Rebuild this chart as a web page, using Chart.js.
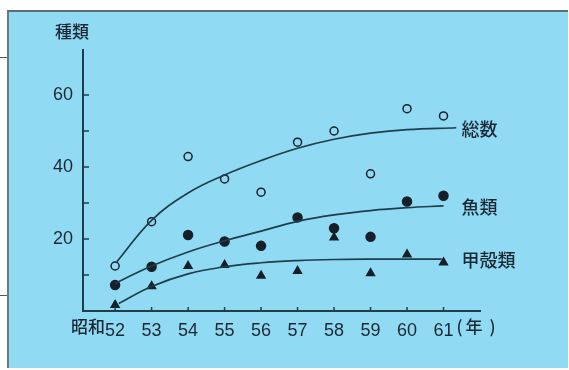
<!DOCTYPE html>
<html>
<head>
<meta charset="utf-8">
<script src="https://cdn.jsdelivr.net/npm/chart.js@4"></script>
<style>
  body { margin: 0; background: #fff; }
  #wrap { position: relative; width: 569px; height: 370px; overflow: hidden; }
  #panel { position: absolute; left: 7px; top: 10px; width: 559px; height: 356px;
           background: #91daf3; border-top: 2px solid #5d6d74; border-left: 2px solid #6a7a80; }
  .mark { position: absolute; left: 0; width: 7px; height: 1px; background: #555; }
  canvas { position: absolute; left: 0; top: 0; }
</style>
</head>
<body>
<div id="wrap">
  <div id="panel"></div>
  <div class="mark" style="top:57px"></div>
  <div class="mark" style="top:295px"></div>
  <canvas id="chart" width="569" height="370"></canvas>
</div>
<script>
// 昭和52〜61年
const years = [52, 53, 54, 55, 56, 57, 58, 59, 60, 61];
const yTickLabels = [20, 40, 60];

// observed points
const totalPts = [12.5, 24.8, 42.9, 36.7, 33.0, 46.9, 50.0, 38.1, 56.2, 54.2];
const fishPts  = [7.2, 12.3, 21.1, 19.3, 18.1, 26.0, 23.0, 20.6, 30.4, 32.0];
const crustPts = [1.7, 6.9, 12.5, 12.8, 9.8, 11.1, 20.4, 10.5, 15.7, 13.5];

// fitted curves
const totalCurveX = [52.05, 53, 54, 55, 56, 57, 58, 59, 60, 61.35];
const totalCurve  = [13.7, 25.2, 32.8, 37.8, 41.8, 45.2, 47.7, 49.4, 50.4, 50.9];
const fishCurveX  = [52, 53, 54, 55, 56, 57, 58, 59, 60, 61];
const fishCurve   = [7.7, 12.5, 16.4, 19.5, 22.2, 24.9, 26.7, 27.9, 28.7, 29.2];
const crustCurveX = [52.1, 53, 54, 55, 56, 57, 58, 59, 60, 60.95];
const crustCurve  = [2.1, 6.8, 10.3, 12.3, 13.4, 14.0, 14.3, 14.4, 14.4, 14.4];

const seriesNames = ['総数', '魚類', '甲殻類'];

const INK = '#1a2833';
const LINE = '#1f3d4b';
const CJK = '"Noto Sans CJK JP", "Noto Sans", sans-serif';
const NUM = '"Liberation Sans", Arial, sans-serif';

const pair = (xs, ys) => xs.map((x, i) => ({ x: x, y: ys[i] }));

function curve(xs, ys) {
    return {
        type: 'line',
        data: pair(xs, ys),
        borderColor: LINE,
        borderWidth: 1.7,
        pointRadius: 0,
        fill: false,
        tension: 0.4
    };
}

function points(ys, style, radius, filled) {
    return {
        type: 'scatter',
        data: pair(years, ys),
        pointStyle: style,
        pointRadius: radius,
        borderWidth: 1.5,
        borderColor: '#15202a',
        backgroundColor: filled ? '#15202a' : 'transparent'
    };
}

const decor = {
    id: 'decor',
    afterDraw(chart) {
        const ctx = chart.ctx;
        const xs = chart.scales.x, ys = chart.scales.y;
        const x0 = xs.left, yb = ys.bottom;
        ctx.save();
        ctx.strokeStyle = LINE;
        ctx.lineWidth = 1.5;
        // inward tick marks
        for (let v = 10; v <= 60; v += 10) {
            const py = ys.getPixelForValue(v);
            ctx.beginPath(); ctx.moveTo(x0, py); ctx.lineTo(x0 + 6, py); ctx.stroke();
        }
        years.forEach(yr => {
            const px = xs.getPixelForValue(yr);
            ctx.beginPath(); ctx.moveTo(px, yb); ctx.lineTo(px, yb - 4); ctx.stroke();
        });

        ctx.fillStyle = INK;
        ctx.textBaseline = 'middle';
        ctx.font = '500 17px ' + CJK;
        // axis title
        ctx.textAlign = 'center';
        ctx.fillText('種類', x0 - 11, ys.top - 18);
        // era prefix and unit
        const ly = yb + 16;
        ctx.textAlign = 'right';
        ctx.fillText('昭和', xs.getPixelForValue(years[0]) - 10, ly);
        ctx.textAlign = 'left';
        const p61 = xs.getPixelForValue(years[years.length - 1]);
        ctx.fillText('(', p61 + 13, ly);
        ctx.fillText('年', p61 + 22, ly);
        ctx.fillText(')', p61 + 46, ly);
        // series labels at curve ends
        const ends = [totalCurve, fishCurve, crustCurve];
        ctx.font = '500 18px ' + CJK;
        seriesNames.forEach((name, i) => {
            const c = ends[i];
            ctx.fillText(name, p61 + 18, ys.getPixelForValue(c[c.length - 1]) + 1);
        });
        ctx.restore();
    }
};

new Chart(document.getElementById('chart'), {
    data: {
        datasets: [
            curve(totalCurveX, totalCurve),
            curve(fishCurveX, fishCurve),
            curve(crustCurveX, crustCurve),
            points(totalPts, 'circle', 4, false),
            points(fishPts, 'circle', 4.5, true),
            points(crustPts, 'triangle', 4.5, true)
        ]
    },
    options: {
        responsive: false,
        animation: false,
        layout: { padding: { top: 50, right: 89, bottom: 0, left: 0 } },
        plugins: { legend: { display: false }, tooltip: { enabled: false } },
        scales: {
            x: {
                type: 'linear',
                min: 51.12,
                max: 62,
                afterFit: s => { s.height = 59; },
                afterBuildTicks: s => { s.ticks = years.map(v => ({ value: v })); },
                grid: { display: false, drawTicks: false },
                border: { display: true, color: LINE, width: 2 },
                ticks: {
                    padding: 9,
                    color: INK,
                    font: { family: NUM, size: 18 },
                    callback: v => String(v)
                }
            },
            y: {
                min: 0,
                max: 72.5,
                afterFit: s => { s.width = 83; },
                grid: { display: false, drawTicks: false },
                border: { display: true, color: LINE, width: 2 },
                ticks: {
                    stepSize: 10,
                    includeBounds: false,
                    padding: 10,
                    color: INK,
                    font: { family: NUM, size: 18 },
                    callback: v => yTickLabels.includes(v) ? String(v) : ''
                }
            }
        }
    },
    plugins: [decor]
});
</script>
</body>
</html>
